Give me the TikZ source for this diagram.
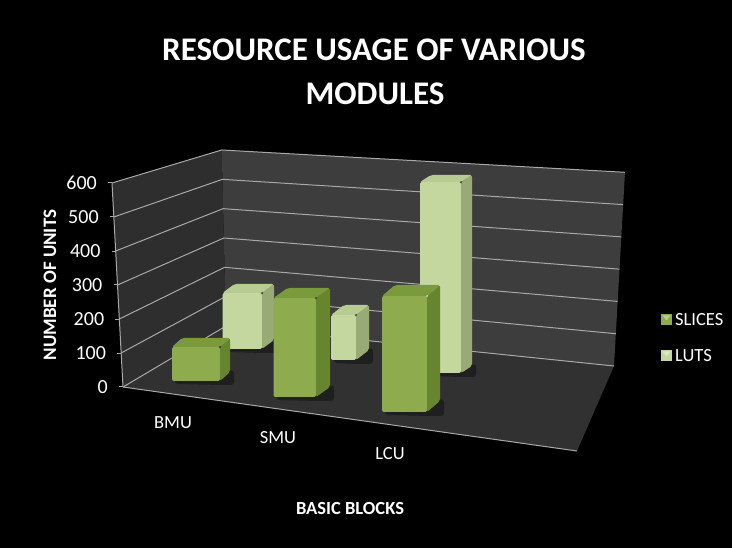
\documentclass[tikz,border=0pt]{standalone}
\usepackage{fontspec}
\setmainfont{Carlito}
\usetikzlibrary{calc}
\definecolor{leftc}{HTML}{2E2E2E}
\definecolor{backc}{HTML}{3D3D3D}
\definecolor{floorc}{HTML}{313131}
\definecolor{gridc}{HTML}{A8A8A8}
\definecolor{sliceF}{HTML}{8EAB4D}
\definecolor{sliceS}{HTML}{67852F}
\definecolor{sliceT}{HTML}{7B9A3B}
\definecolor{lutF}{HTML}{C4D79F}
\definecolor{lutS}{HTML}{98AB76}
\definecolor{lutT}{HTML}{B7CB92}
\newcommand\drawbox[9]{%
  \fill[black,opacity=0.35,rounded corners=3pt] ({#1+3},{#4-3}) -- ({#2+#5+4},{#4+#6-2}) -- ({#2+#5+4},{#4+4}) -- ({#2+2},{#4+4}) -- ({#1+3},{#4+3}) -- cycle;
  \fill[#7,rounded corners=2pt] (#1,#3) rectangle (#2,#4);
  \fill[#8,rounded corners=2pt] (#2,#3) -- ++(#5,#6) -- ++(0,{#4-#3}) -- (#2,#4) -- cycle;
  \fill[#9,rounded corners=2pt] (#1,#3) -- ++(#5,#6) -- ++({#2-#1},0) -- (#2,#3) -- cycle;
}
\begin{document}
\begin{tikzpicture}[x=1pt,y=-1pt,
  grid/.style={draw=gridc,line width=1pt},
  ticklabel/.style={anchor=east,inner sep=0pt,text=white,font=\fontsize{20}{22}\selectfont},
  catlabel/.style={inner sep=0pt,text=white,font=\fontsize{18.5}{20}\selectfont},
  titlelabel/.style={inner sep=0pt,text=white,font=\bfseries\fontsize{33}{38}\selectfont},
  axlabel/.style={inner sep=0pt,text=white,font=\bfseries\fontsize{19}{21}\selectfont}]
\fill[black] (0,0) rectangle (732,548);
\useasboundingbox (0,0) rectangle (732,548);
% geometry
\coordinate (LT) at (112,183);
\coordinate (LB) at (123,387);
\coordinate (BT) at (221.7,150);
\coordinate (BB) at (226,326);
\coordinate (RT) at (625,172.3);
\coordinate (RB) at (614,366);
\coordinate (FR) at (577,451);
% walls and floor
\fill[floorc] (LB) -- (BB) -- (RB) -- (FR) -- cycle;
\fill[leftc] (LT) -- (BT) -- (BB) -- (LB) -- cycle;
\fill[backc] (BT) -- (RT) -- (RB) -- (BB) -- cycle;
% grid lines, ticks, tick labels
\foreach \i in {0,...,6} {
  \pgfmathsetmacro\f{\i/6}
  \draw[grid] ($(LB)!\f!(LT)$) -- ($(BB)!\f!(BT)$) -- ($(RB)!\f!(RT)$);
  \draw[grid] ($(LB)!\f!(LT)$) -- ++(-4,0);
  \node[ticklabel] (t\i) at ($(LB)!\f!(LT)+(-15,0)$) {\the\numexpr\i*100\relax};
}
\draw[grid] (LT) -- (LB);
\draw[grid] (LB) -- (FR);
% bars: back row (LUTS)
\drawbox{222.5}{262}{293}{349}{12}{-9}{lutF}{lutS}{lutT}
\drawbox{331}{356}{315}{360}{13}{-10}{lutF}{lutS}{lutT}
\drawbox{420}{461}{182}{373}{11}{-7}{lutF}{lutS}{lutT}
% bars: front row (SLICES)
\drawbox{172}{220}{347}{381}{10}{-9}{sliceF}{sliceS}{sliceT}
\drawbox{273.5}{316}{298}{397}{14}{-10}{sliceF}{sliceS}{sliceT}
\drawbox{382}{427}{296}{412}{13}{-11}{sliceF}{sliceS}{sliceT}
% titles
\node[titlelabel] (title1) at (374,50) {RESOURCE USAGE OF VARIOUS};
\node[titlelabel] (title2) at (375,94) {MODULES};
\node[axlabel,rotate=90] (ylab) at (50,285) {NUMBER OF UNITS};
\node[axlabel,font=\bfseries\fontsize{18.5}{20}\selectfont] (xlab) at (350,508) {BASIC BLOCKS};
% category labels
\node[catlabel] (bmu) at (173,423) {BMU};
\node[catlabel] (smu) at (278,438) {SMU};
\node[catlabel] (lcu) at (390,454) {LCU};
% legend
\fill[sliceF] (661,314) rectangle (672,325);
\fill[sliceF!60!white] (662.5,315.5) -- (670.5,315.5) -- (666.5,320.5) -- cycle;
\fill[lutF] (661,350) rectangle (672,361);
\fill[lutF!60!white] (662.5,351.5) -- (670.5,351.5) -- (666.5,356.5) -- cycle;
\node[catlabel,anchor=west] (leg1) at (675,319.5) {SLICES};
\node[catlabel,anchor=west] (leg2) at (675,355.5) {LUTS};
\end{tikzpicture}
\end{document}
